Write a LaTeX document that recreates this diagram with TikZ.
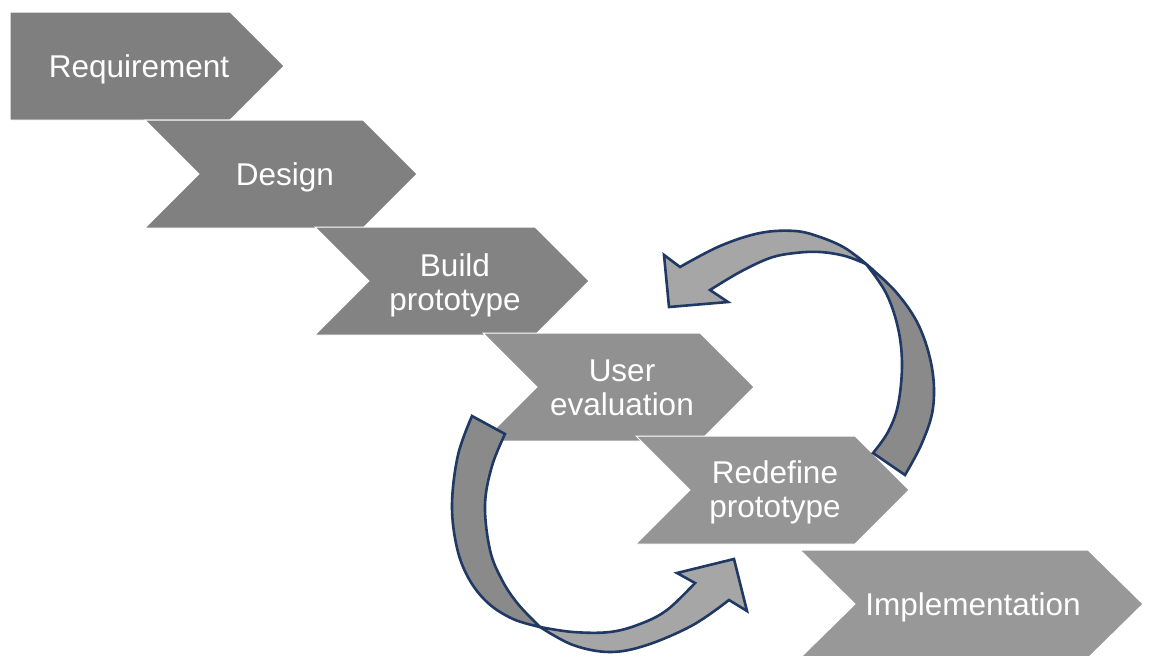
\documentclass[tikz,border=0pt]{standalone}
\usepackage{fontspec}
\setmainfont{Liberation Sans}
\begin{document}
\begin{tikzpicture}[x=1pt,y=-1pt,
  chev/.style={draw=white,line width=1pt},
  lbl/.style={text=white,font=\fontsize{31.5}{34}\selectfont,align=center,inner sep=0pt},
  arrlight/.style={fill=arrL,draw=arrLine,line width=2.6pt,line join=miter},
  arrdark/.style={fill=arrD,draw=arrLine,line width=2.6pt,line join=miter}]
\definecolor{cA}{HTML}{7F7F7F}
\definecolor{cB}{HTML}{808080}
\definecolor{cC}{HTML}{838383}
\definecolor{cD}{HTML}{919191}
\definecolor{cE}{HTML}{959595}
\definecolor{cF}{HTML}{989898}
\definecolor{arrL}{HTML}{A6A6A6}
\definecolor{arrD}{HTML}{8A8A8A}
\definecolor{arrLine}{HTML}{1F3864}
\useasboundingbox[fill=white] (0,0) rectangle (1149,656);
% chevrons
\path[chev,fill=cA] (10,12) -- (230,12) -- (284,66) -- (230,120) -- (10,120) -- cycle;
\path[chev,fill=cB] (145,120) -- (363,120) -- (417,174) -- (363,228) -- (145,228) -- (199,174) -- cycle;
\path[chev,fill=cC] (315,227) -- (535,227) -- (589,281) -- (535,335) -- (315,335) -- (369,281) -- cycle;
\path[chev,fill=cD] (483,333) -- (700,333) -- (754,387) -- (700,441) -- (483,441) -- (537,387) -- cycle;
\path[chev,fill=cE] (636,436) -- (855,436) -- (909,490) -- (855,544) -- (636,544) -- (690,490) -- cycle;
\path[chev,fill=cF] (800,550) -- (1088,550) -- (1143,604) -- (1088,658) -- (800,658) -- (855,604) -- cycle;
% labels
\node[lbl] (req) at (139,69) {Requirement};
\node[lbl] (des) at (285,177) {Design};
\node[lbl] (bld) at (455,285) {Build\\prototype};
\node[lbl] (usr) at (622,388) {User\\evaluation};
\node[lbl] (rdf) at (775,492) {Redefine\\prototype};
\node[lbl] (imp) at (973,607) {Implementation};
% upper curved arrow (from Redefine back to Build prototype)
\path[arrdark] plot[smooth,tension=0.6] coordinates {(866,264) (896,292) (919,326) (932,368) (933,408) (922,443) (905,475)}
  -- (873,453)
  -- plot[smooth,tension=0.6] coordinates {(873,453) (888,432) (898,405) (902,365) (898,328) (886,293) (866,264)} -- cycle;
\path[arrlight] plot[smooth,tension=0.6] coordinates {(866,264) (845,248) (820,237) (795,231) (760,233) (720,246) (680,267)}
  -- (664,255) -- (669,307) -- (728,302) -- (710,290)
  -- plot[smooth,tension=0.6] coordinates {(710,290) (740,272) (770,258) (795,253) (820,252) (845,256) (866,264)} -- cycle;
% lower curved arrow (from User evaluation to Redefine prototype)
\path[arrdark] plot[smooth,tension=0.6] coordinates {(472,416) (458,455) (452,505) (457,548) (469,579) (488,603) (513,619) (540,627)}
  -- plot[smooth,tension=0.6] coordinates {(540,627) (518,604) (502,580) (490,550) (485,505) (492,466) (505,434)} -- cycle;
\path[arrlight] plot[smooth,tension=0.6] coordinates {(540,627) (573,645) (610,652) (647,645) (693,625) (729,600)}
  -- (747,611) -- (734,559) -- (677,573) -- (695,583)
  -- plot[smooth,tension=0.6] coordinates {(695,583) (667,610) (640,624) (610,632) (573,632) (540,627)} -- cycle;
\end{tikzpicture}
\end{document}
